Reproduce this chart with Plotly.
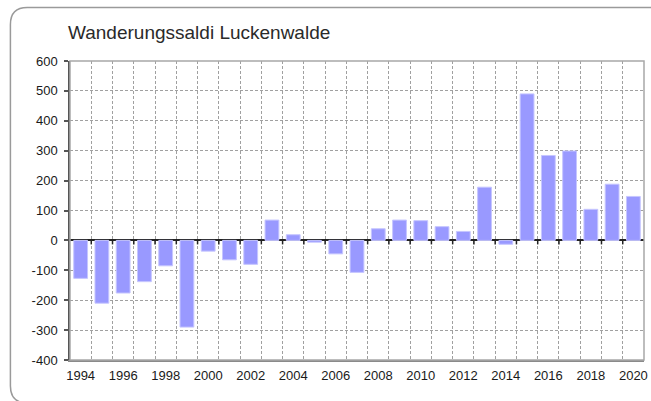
import plotly.graph_objects as go

years = list(range(1994, 2021))
saldo = [-127, -210, -176, -138, -85, -290, -36, -65, -80, 68, 19, -6, -45, -107,
         39, 68, 66, 46, 30, 178, -13, 490, 284, 299, 104, 188, 147]
tick_years = list(range(1994, 2021, 2))
y_ticks = list(range(-400, 601, 100))
y_tick_text = [str(v) for v in y_ticks]  # plain hyphen minus
title_text = "Wanderungssaldi Luckenwalde"

W, H = 651, 401
L, R, T, B = 70, 648, 61, 360

fig = go.Figure()
fig.add_trace(go.Bar(
    x=years, y=saldo,
    marker=dict(color="#9999ff", line=dict(color="#c6c6ff", width=1)),
    hoverinfo="x+y",
))

def px_to_paper(px, py):
    return (px - L) / (R - L), (B - py) / (B - T)

def frame_path():
    pts = [
        ("M", [(660, 7.5)]),
        ("L", [(27, 7.5)]),
        ("Q", [(10, 7.5), (10, 24.5)]),
        ("L", [(10, 386)]),
        ("Q", [(10, 403), (27, 403)]),
        ("L", [(660, 403)]),
    ]
    s = ""
    for cmd, ps in pts:
        s += cmd + " " + " ".join("%.5f,%.5f" % px_to_paper(*p) for p in ps) + " "
    return s.strip()

shapes = [
    dict(type="path", xref="paper", yref="paper", path=frame_path(),
         line=dict(color="#9a9a9a", width=1.5), layer="above"),
    dict(type="rect", xref="paper", yref="paper", x0=0, x1=1, y0=0, y1=1,
         line=dict(color="#a8a8a8", width=1.5), layer="above"),
]
# tick marks on the zero line at category boundaries
for yr in years[:-1]:
    shapes.append(dict(type="line", xref="x", yref="y", ysizemode="pixel", yanchor=0,
                       x0=yr + 0.5, x1=yr + 0.5, y0=1, y1=-4,
                       line=dict(color="#222222", width=1.5), layer="above"))

fig.update_layout(
    width=W, height=H,
    margin=dict(l=L, r=W - R, t=T, b=H - B),
    paper_bgcolor="white", plot_bgcolor="white",
    showlegend=False,
    bargap=0.35,
    font=dict(family="Liberation Sans, Arial, sans-serif", color="#1a1a1a", size=13),
    title=dict(text=title_text, x=68 / W, xanchor="left", xref="container",
               y=1 - 26 / H, yanchor="top", yref="container",
               font=dict(size=19, color="#2a2a2a", family="Liberation Sans, Arial, sans-serif")),
    shapes=shapes,
    xaxis=dict(
        range=[years[0] - 0.5, years[-1] + 0.5],
        tickmode="array", tickvals=tick_years, ticktext=[str(v) for v in tick_years],
        ticks="", showgrid=False, zeroline=False,
        showline=True, linecolor="#8a8a8a", linewidth=1.5,
        minor=dict(tick0=years[0] - 0.5, dtick=1, showgrid=True, gridcolor="#a0a0a0",
                   griddash="3px,2px", gridwidth=1, ticks=""),
        ticklabelstandoff=3,
        ticklabeloverflow="allow",
        fixedrange=True,
    ),
    yaxis=dict(
        range=[-400, 600], tickmode="array", tickvals=y_ticks, ticktext=y_tick_text,
        ticks="outside", ticklen=4, tickcolor="#555555", tickwidth=1.5,
        showgrid=True, gridcolor="#a0a0a0", griddash="3px,2px", gridwidth=1,
        zeroline=True, zerolinecolor="#222222", zerolinewidth=2,
        showline=True, linecolor="#555555", linewidth=1.5,
        ticklabelstandoff=4,
        ticklabeloverflow="allow",
        fixedrange=True,
    ),
)

fig.write_html("out.html", config=dict(displayModeBar=False),
               post_script="document.body.style.margin='0';document.body.style.overflow='hidden';")
